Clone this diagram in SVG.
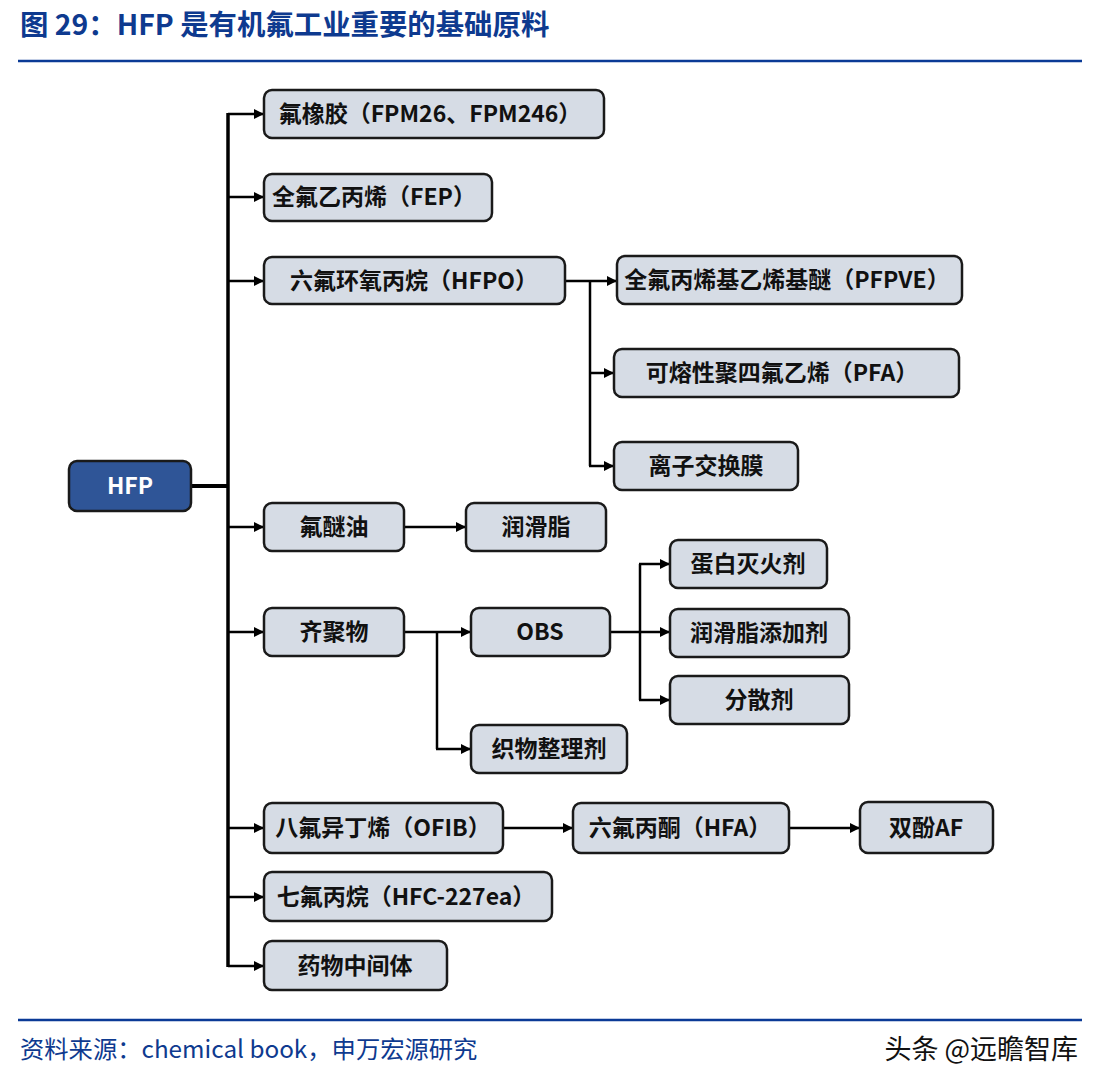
<svg xmlns="http://www.w3.org/2000/svg" width="1100" height="1088" viewBox="0 0 1100 1088">
<defs>
<marker id="arr" viewBox="0 0 10 10" refX="10" refY="5" markerWidth="10" markerHeight="10" markerUnits="userSpaceOnUse" orient="auto">
<path d="M0,0 L10,5 L0,10 z" fill="#000"/>
</marker>
<style>
.box{fill:#D6DCE5;stroke:#1a1a1a;stroke-width:2.5}
.hfp{fill:#2F5597;stroke:#1a1a1a;stroke-width:2.5}
.t{font-family:"Noto Sans CJK SC","Noto Sans",sans-serif;font-weight:bold;font-size:23px;fill:#111;text-anchor:middle}
.tw{fill:#fff}
.c{fill:none;stroke:#000;stroke-width:2.5}
.ca{fill:none;stroke:#000;stroke-width:2.5;marker-end:url(#arr)}
.title{font-family:"Noto Sans CJK SC","Noto Sans",sans-serif;font-weight:bold;font-size:28.4px;fill:#0E3A8F}
.foot{font-family:"Noto Sans CJK SC","Noto Sans",sans-serif;font-size:24.3px;fill:#0E3A8F}
.wm{font-family:"Noto Sans CJK SC","Noto Sans",sans-serif;font-size:27px;fill:#111;text-anchor:end}
</style>
</defs>
<rect width="1100" height="1088" fill="#fff"/>
<text class="title" x="20" y="35">图 29：HFP 是有机氟工业重要的基础原料</text>
<line x1="18" y1="61" x2="1082" y2="61" stroke="#0A3A96" stroke-width="2.5"/>

<g id="connectors">
<line x1="191" y1="486" x2="229" y2="486" stroke="#000" stroke-width="4"/>
<line x1="228" y1="113" x2="228" y2="967" stroke="#000" stroke-width="3.5"/>
<path class="ca" d="M228,114 H264"/>
<path class="ca" d="M228,197 H264"/>
<path class="ca" d="M228,281 H264"/>
<path class="ca" d="M228,527 H264"/>
<path class="ca" d="M228,632 H264"/>
<path class="ca" d="M228,828 H264"/>
<path class="ca" d="M228,897 H264"/>
<path class="ca" d="M228,966 H264"/>
<path class="ca" d="M565,281 H617"/>
<path class="c" d="M590,281 V466"/>
<path class="ca" d="M590,373 H614"/>
<path class="ca" d="M589,466 H614"/>
<path class="ca" d="M404,527 H466"/>
<path class="ca" d="M404,632 H471"/>
<path class="c" d="M437,632 V749"/>
<path class="ca" d="M436,749 H471"/>
<path class="ca" d="M610,632 H670"/>
<path class="c" d="M640,564 V700"/>
<path class="ca" d="M639,564 H670"/>
<path class="ca" d="M639,700 H670"/>
<path class="ca" d="M503,828 H573"/>
<path class="ca" d="M789,828 H860"/>
</g>

<g id="n-hfp"><rect class="hfp" x="69" y="461" width="122" height="50" rx="8"/><text class="t tw" x="130" y="494">HFP</text></g>
<g id="n-fpm"><rect class="box" x="264" y="90" width="340" height="48" rx="8"/><text class="t" x="430" y="122">氟橡胶（FPM26、FPM246）</text></g>
<g id="n-fep"><rect class="box" x="264" y="174" width="228" height="47" rx="8"/><text class="t" x="374" y="205">全氟乙丙烯（FEP）</text></g>
<g id="n-hfpo"><rect class="box" x="264" y="257" width="301" height="47" rx="8"/><text class="t" x="414" y="289">六氟环氧丙烷（HFPO）</text></g>
<g id="n-pfpve"><rect class="box" x="617" y="256" width="345" height="48" rx="8"/><text class="t" x="787" y="288">全氟丙烯基乙烯基醚（PFPVE）</text></g>
<g id="n-pfa"><rect class="box" x="614" y="349" width="345" height="48" rx="8"/><text class="t" x="782" y="381">可熔性聚四氟乙烯（PFA）</text></g>
<g id="n-membrane"><rect class="box" x="614" y="442" width="184" height="48" rx="8"/><text class="t" x="706" y="474">离子交换膜</text></g>
<g id="n-ether-oil"><rect class="box" x="264" y="503" width="140" height="48" rx="8"/><text class="t" x="334" y="535">氟醚油</text></g>
<g id="n-grease"><rect class="box" x="466" y="503" width="140" height="48" rx="8"/><text class="t" x="536" y="535">润滑脂</text></g>
<g id="n-foam"><rect class="box" x="670" y="540" width="157" height="48" rx="8"/><text class="t" x="748" y="572">蛋白灭火剂</text></g>
<g id="n-oligomer"><rect class="box" x="264" y="608" width="140" height="48" rx="8"/><text class="t" x="334" y="640">齐聚物</text></g>
<g id="n-obs"><rect class="box" x="471" y="608" width="139" height="48" rx="8"/><text class="t" x="540" y="640">OBS</text></g>
<g id="n-additive"><rect class="box" x="670" y="609" width="179" height="48" rx="8"/><text class="t" x="759" y="641">润滑脂添加剂</text></g>
<g id="n-dispersant"><rect class="box" x="670" y="676" width="179" height="48" rx="8"/><text class="t" x="759" y="708">分散剂</text></g>
<g id="n-textile"><rect class="box" x="471" y="725" width="156" height="48" rx="8"/><text class="t" x="549" y="757">织物整理剂</text></g>
<g id="n-ofib"><rect class="box" x="264" y="803" width="239" height="50" rx="8"/><text class="t" x="383" y="836">八氟异丁烯（OFIB）</text></g>
<g id="n-hfa"><rect class="box" x="573" y="803" width="216" height="50" rx="8"/><text class="t" x="680" y="836">六氟丙酮（HFA）</text></g>
<g id="n-bpaf"><rect class="box" x="860" y="802" width="133" height="51" rx="8"/><text class="t" x="926" y="836">双酚AF</text></g>
<g id="n-hfc"><rect class="box" x="264" y="872" width="288" height="49" rx="8"/><text class="t" x="406" y="905">七氟丙烷（HFC-227ea）</text></g>
<g id="n-pharma"><rect class="box" x="264" y="941" width="183" height="49" rx="8"/><text class="t" x="355" y="974">药物中间体</text></g>

<line x1="18" y1="1020" x2="1082" y2="1020" stroke="#0A3A96" stroke-width="2.5"/>
<text class="foot" x="20" y="1058">资料来源：chemical book，申万宏源研究</text>
<text class="wm" x="1078" y="1059">头条 @远瞻智库</text>
</svg>
